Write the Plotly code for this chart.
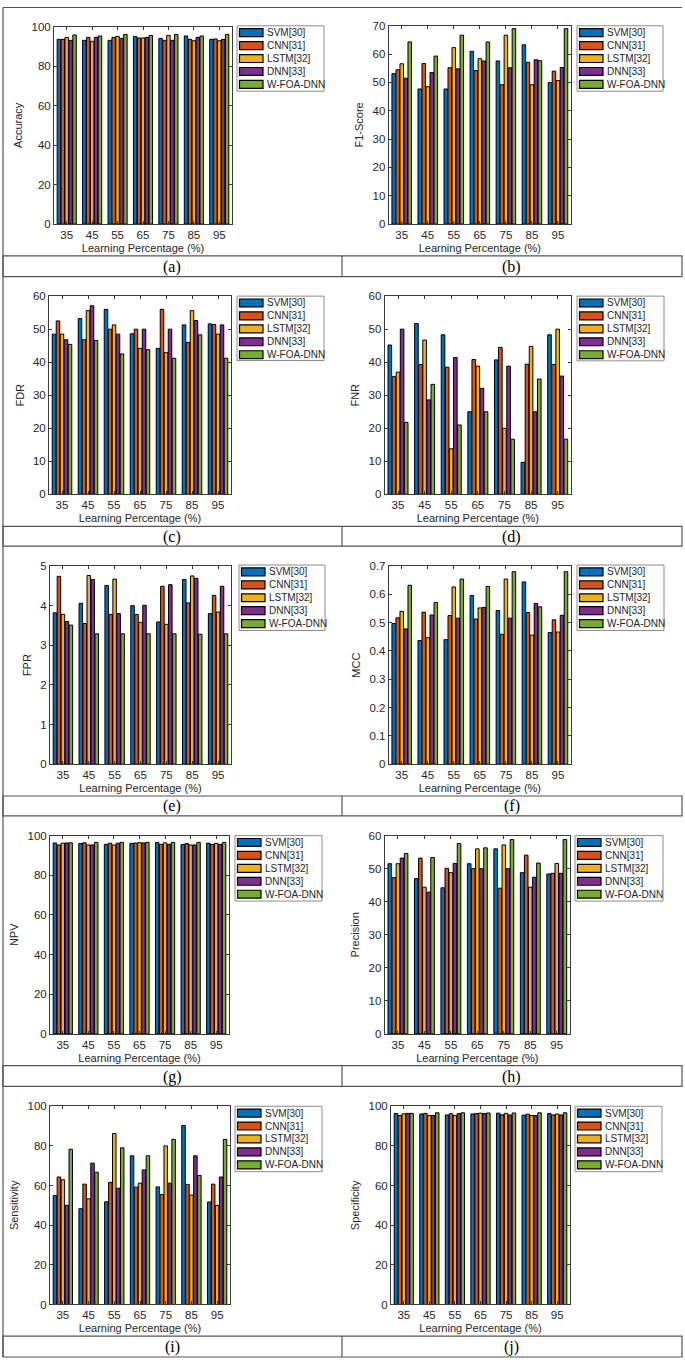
import plotly.graph_objects as go

W, H = 685, 1365

categories = ["35", "45", "55", "65", "75", "85", "95"]
methods = ["SVM[30]", "CNN[31]", "LSTM[32]", "DNN[33]", "W-FOA-DNN"]
colors = ["#0072BD", "#D95319", "#EDB120", "#7E2F8E", "#77AC30"]

# rows: SVM, CNN, LSTM, DNN, W-FOA-DNN ; columns: 35..95
accuracy = [
    [93.5, 93.0, 93.0, 95.0, 94.0, 95.2, 93.5],
    [93.5, 94.5, 94.5, 94.2, 93.0, 93.5, 93.7],
    [94.5, 92.5, 95.0, 94.2, 95.5, 92.8, 92.8],
    [93.0, 94.5, 94.0, 94.5, 93.0, 94.5, 93.5],
    [95.7, 95.2, 96.0, 95.5, 96.0, 95.2, 96.0],
]
f1_score = [
    [53.1, 47.7, 47.7, 61.0, 57.6, 63.3, 50.0],
    [54.5, 56.7, 55.2, 54.2, 49.2, 57.1, 54.0],
    [56.6, 48.5, 62.3, 58.4, 66.7, 49.2, 50.7],
    [51.5, 53.5, 54.8, 57.6, 55.2, 58.0, 55.3],
    [64.3, 59.3, 66.7, 64.3, 69.0, 57.7, 69.0],
]
fdr = [
    [48.5, 53.2, 56.0, 48.6, 44.2, 51.3, 51.6],
    [52.5, 46.8, 50.0, 50.0, 56.0, 46.0, 51.4],
    [48.5, 55.6, 51.3, 44.2, 42.9, 55.6, 48.5],
    [46.8, 57.1, 48.5, 50.0, 50.0, 52.6, 51.3],
    [45.4, 46.6, 42.5, 43.8, 41.2, 48.3, 41.2],
]
fnr = [
    [45.2, 51.7, 48.3, 25.0, 40.7, 9.7, 48.3],
    [35.7, 39.3, 38.5, 40.8, 44.5, 39.4, 39.3],
    [37.0, 46.7, 13.8, 38.8, 20.0, 44.8, 50.0],
    [50.0, 28.6, 41.4, 32.1, 38.8, 25.0, 35.8],
    [21.8, 33.3, 21.0, 25.0, 16.7, 34.9, 16.7],
]
fpr = [
    [3.82, 4.06, 4.51, 4.00, 3.59, 4.66, 3.80],
    [4.74, 3.55, 3.78, 3.78, 4.49, 4.07, 4.26],
    [3.78, 4.76, 4.67, 3.58, 3.53, 4.75, 3.84],
    [3.60, 4.66, 3.80, 4.01, 4.53, 4.69, 4.49],
    [3.51, 3.29, 3.29, 3.29, 3.29, 3.28, 3.29],
]
mcc = [
    [0.497, 0.437, 0.440, 0.596, 0.543, 0.644, 0.465],
    [0.517, 0.537, 0.525, 0.513, 0.459, 0.536, 0.510],
    [0.540, 0.447, 0.626, 0.552, 0.654, 0.456, 0.467],
    [0.478, 0.527, 0.516, 0.554, 0.516, 0.568, 0.526],
    [0.632, 0.571, 0.654, 0.628, 0.680, 0.556, 0.680],
]
npv = [
    [96.3, 96.0, 95.6, 96.1, 96.5, 95.5, 96.2],
    [95.3, 96.4, 96.2, 96.3, 95.6, 96.0, 95.6],
    [96.2, 95.3, 95.3, 96.5, 96.4, 95.3, 96.1],
    [96.3, 95.3, 96.2, 96.3, 95.6, 95.3, 95.6],
    [96.4, 96.6, 96.6, 96.6, 96.6, 96.6, 96.6],
]
precision = [
    [51.5, 47.0, 44.2, 51.5, 56.0, 48.8, 48.4],
    [47.3, 53.2, 50.1, 50.0, 44.1, 54.1, 48.6],
    [51.5, 44.4, 48.8, 56.0, 57.2, 44.4, 51.6],
    [53.2, 42.9, 51.6, 50.0, 50.0, 47.4, 48.6],
    [54.6, 53.4, 57.6, 56.3, 58.8, 51.7, 58.8],
]
sensitivity = [
    [55.0, 48.3, 51.8, 75.0, 59.3, 90.3, 51.7],
    [64.3, 60.7, 61.6, 59.2, 55.5, 60.6, 60.7],
    [62.9, 53.3, 86.2, 61.2, 80.0, 55.2, 50.0],
    [50.0, 71.3, 58.6, 67.9, 61.2, 75.0, 64.3],
    [78.3, 66.7, 79.0, 75.0, 83.3, 65.1, 83.3],
]
specificity = [
    [96.3, 96.1, 95.6, 96.1, 96.5, 95.5, 96.3],
    [95.3, 96.4, 96.2, 96.3, 95.7, 96.0, 95.6],
    [96.2, 95.3, 95.3, 96.5, 96.4, 95.3, 96.1],
    [96.4, 95.3, 96.3, 96.3, 95.6, 95.3, 95.6],
    [96.4, 96.7, 96.7, 96.6, 96.6, 96.7, 96.7],
]

metric_names = ["Accuracy", "F1-Score", "FDR", "FNR", "FPR", "MCC",
                "NPV", "Precision", "Sensitivity", "Specificity"]
metric_data = [accuracy, f1_score, fdr, fnr, fpr, mcc,
               npv, precision, sensitivity, specificity]
y_max = [100, 70, 60, 60, 5, 0.7, 100, 60, 100, 100]
y_step = [20, 10, 10, 10, 1, 0.1, 20, 10, 20, 20]
captions = ["(a)", "(b)", "(c)", "(d)", "(e)", "(f)", "(g)", "(h)", "(i)", "(j)"]

# layout geometry (pixels)
axes_boxes = [
    (54, 20.7, 232, 220), (388.7, 20, 571, 220),
    (49, 292.7, 231, 492.7), (384.7, 292.7, 571, 492.7),
    (50, 565, 231, 765), (388.7, 565, 571, 765),
    (50, 837, 229, 1037), (384.7, 837, 570, 1037),
    (50, 1110, 230, 1310), (391, 1110, 570, 1310),
]
legend_boxes = [
    (237, 20, 324, 86), (577, 20, 663, 86),
    (237, 292.7, 324, 357.7), (577, 292.7, 664, 358),
    (239, 564, 325, 630), (577, 564, 664, 630),
    (235, 837, 322, 903), (575, 837, 663, 903),
    (235, 1110, 322, 1176), (575, 1110, 662, 1176),
]
caption_rows = [(252, 273), (525, 545), (797, 817), (1069, 1090), (1342, 1363)]

FONT = "Liberation Sans, Arial, sans-serif"
TXT = "#262626"
AXC = "#3a3a3a"


def px(x):
    return x / W


def py(y):
    return 1 - y / H


fig = go.Figure()
layout = {}
shapes = []
annotations = []

for i, (name, data) in enumerate(zip(metric_names, metric_data)):
    xa = "x" if i == 0 else f"x{i + 1}"
    ya = "y" if i == 0 else f"y{i + 1}"
    for m in range(5):
        fig.add_trace(go.Bar(
            x=categories, y=data[m], name=methods[m], xaxis=xa, yaxis=ya,
            marker=dict(color=colors[m], line=dict(color="black", width=1)),
            showlegend=False,
        ))
    x0, y0, x1, y1 = axes_boxes[i]
    layout["xaxis" if i == 0 else f"xaxis{i + 1}"] = dict(
        domain=[px(x0), px(x1)], anchor=ya, type="category",
        range=[-0.5, 6.5], showline=True, mirror="ticks", linecolor=AXC,
        linewidth=1, ticks="inside", ticklen=3, tickcolor=AXC,
        showgrid=False, zeroline=False,
        tickfont=dict(family=FONT, size=11.5, color=TXT),
        title=dict(text="Learning Percentage (%)", standoff=4,
                   font=dict(family=FONT, size=11, color=TXT)),
    )
    layout["yaxis" if i == 0 else f"yaxis{i + 1}"] = dict(
        domain=[py(y1), py(y0)], anchor=xa, range=[0, y_max[i]],
        tick0=0, dtick=y_step[i], showline=True, mirror="ticks",
        linecolor=AXC, linewidth=1, ticks="inside", ticklen=3,
        tickcolor=AXC, showgrid=False, zeroline=False,
        tickfont=dict(family=FONT, size=11.5, color=TXT),
        title=dict(text=name, standoff=6,
                   font=dict(family=FONT, size=11, color=TXT)),
    )
    # legend
    lx0, ly0, lx1, ly1 = legend_boxes[i]
    shapes.append(dict(type="rect", xref="paper", yref="paper",
                       x0=px(lx0), x1=px(lx1), y0=py(ly1), y1=py(ly0),
                       line=dict(color="#8c8c8c", width=1),
                       fillcolor="white", layer="above"))
    for k in range(5):
        cy = ly0 + 6.9 + 13.05 * k
        shapes.append(dict(type="rect", xref="paper", yref="paper",
                           x0=px(lx0 + 2.5), x1=px(lx0 + 26),
                           y0=py(cy + 4), y1=py(cy - 4),
                           fillcolor=colors[k],
                           line=dict(color="black", width=1.2),
                           layer="above"))
        annotations.append(dict(xref="paper", yref="paper",
                                x=px(lx0 + 28), y=py(cy), text=methods[k],
                                showarrow=False, xanchor="left",
                                yanchor="middle",
                                font=dict(family=FONT, size=10, color=TXT)))

# table frame lines
frame = dict(color="#555555", width=1.2)
shapes.append(dict(type="line", xref="paper", yref="paper",
                   x0=px(3), x1=px(682), y0=py(1.5), y1=py(1.5), line=frame))
shapes.append(dict(type="line", xref="paper", yref="paper",
                   x0=px(3), x1=px(3), y0=py(1.5), y1=py(1363), line=frame))
for r, (ct, cb) in enumerate(caption_rows):
    shapes.append(dict(type="rect", xref="paper", yref="paper",
                       x0=px(3), x1=px(682), y0=py(cb), y1=py(ct), line=frame))
    shapes.append(dict(type="line", xref="paper", yref="paper",
                       x0=px(342), x1=px(342), y0=py(cb), y1=py(ct), line=frame))
    for c, cx in enumerate((172, 512)):
        annotations.append(dict(xref="paper", yref="paper", x=px(cx),
                                y=py((ct + cb) / 2 + 0.5),
                                text=captions[2 * r + c], showarrow=False,
                                xanchor="center", yanchor="middle",
                                font=dict(family="Liberation Serif, Times New Roman, serif",
                                          size=16, color="black")))

fig.update_layout(
    width=W, height=H, autosize=False,
    margin=dict(l=0, r=0, t=0, b=0),
    paper_bgcolor="white", plot_bgcolor="white",
    barmode="group", bargap=0.23, bargroupgap=0.12,
    shapes=shapes, annotations=annotations, showlegend=False,
    **layout,
)

fig.write_html("out.html", config={"staticPlot": True, "displayModeBar": False},
               post_script="document.body.style.margin='0';")
